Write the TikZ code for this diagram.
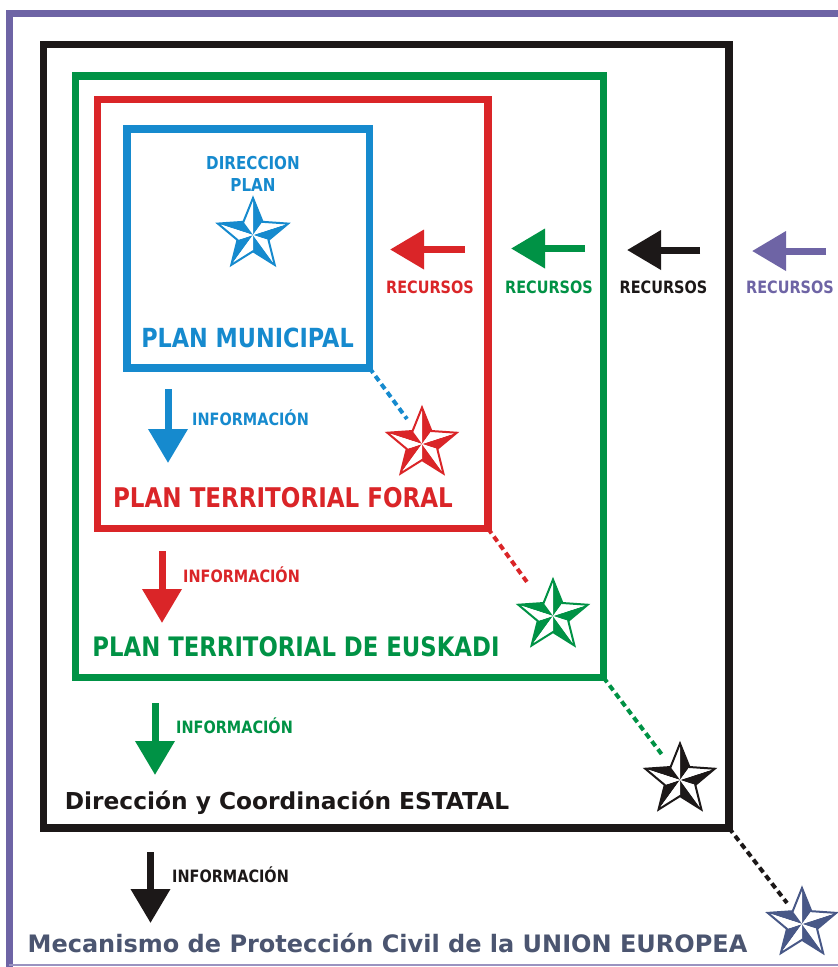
\documentclass[tikz,border=0pt]{standalone}
\usepackage{fontspec}
\setmainfont{DejaVu Sans}
\newfontfamily\capsf[FakeStretch=0.85]{DejaVu Sans}
\usetikzlibrary{arrows.meta}
\definecolor{cblue}{RGB}{22,138,206}
\definecolor{cred}{RGB}{218,37,40}
\definecolor{cgreen}{RGB}{0,146,69}
\definecolor{cblack}{RGB}{28,24,24}
\definecolor{cpurple}{RGB}{110,100,165}
\definecolor{cnavy}{RGB}{72,88,135}
\definecolor{cslate}{RGB}{75,85,112}
\tikzset{
  boxline/.style={line width=7.5pt, line join=miter},
  conn/.style={line width=4pt, dash pattern=on 6pt off 4pt},
  bigarrow/.style={line width=7pt, -{Triangle[length=34pt,width=38pt]}},
  capt/.style={inner sep=0pt, anchor=base, font=\capsf\bfseries\fontsize{#1}{#1}\selectfont},
  lowt/.style={inner sep=0pt, anchor=base, font=\bfseries\fontsize{#1}{#1}\selectfont},
}
\newcommand\nautstar[3]{%
  \begin{scope}[shift={(#1)}]
    \foreach \k in {0,...,4}{
      \pgfmathsetmacro\aa{270+72*\k}
      \fill[#3] (0,0) -- (\aa:#2) -- (\aa+36:0.44*#2) -- cycle;
      \fill[white] (0,0) -- (\aa:#2) -- (\aa-36:0.44*#2) -- cycle;
    }
    \draw[#3, line width=2pt, line join=miter]
      (270:#2) -- (306:0.44*#2) -- (342:#2) -- (18:0.44*#2) -- (54:#2)
      -- (90:0.44*#2) -- (126:#2) -- (162:0.44*#2) -- (198:#2)
      -- (234:0.44*#2) -- cycle;
  \end{scope}}
\begin{document}
\begin{tikzpicture}[x=1pt,y=-1pt]
\useasboundingbox (0,0) rectangle (838,967);
\fill[white] (0,0) rectangle (838,967);
% outer purple frame
\draw[cpurple, line width=7pt] (838,13.5) -- (9,13.5) -- (9,967);
\draw[cpurple!70, line width=1.5pt] (9,965) -- (838,965);

% corner coordinates
\coordinate (kTL) at (43.5,44.5);  \coordinate (kBR) at (729,828);
\coordinate (gTL) at (75.5,76);    \coordinate (gBR) at (603.5,677.5);
\coordinate (rTL) at (97.5,99.5);  \coordinate (rBR) at (488,528.5);
\coordinate (bTL) at (127,129);    \coordinate (bBR) at (369.5,368);

% boxes
\draw[boxline, cblack] (kTL) rectangle (kBR);
\draw[boxline, cgreen] (gTL) rectangle (gBR);
\draw[boxline, cred]   (rTL) rectangle (rBR);
\draw[boxline, cblue]  (bTL) rectangle (bBR);

% stars
\coordinate (sBlue)  at (253,235);
\coordinate (sRed)   at (422,444);
\coordinate (sGreen) at (553,616);
\coordinate (sBlack) at (680,780);
\coordinate (sEU)    at (802,924);
\nautstar{sBlue}{37}{cblue}
\nautstar{sRed}{36.5}{cred}
\nautstar{sGreen}{36.5}{cgreen}
\nautstar{sBlack}{36.5}{cblack}
\nautstar{sEU}{36}{cnavy}

% dashed connectors
\coordinate (eBlue)  at (407,419);
\coordinate (eRed)   at (527,582);
\coordinate (eGreen) at (663,756);
\coordinate (eBlack) at (787,903);
\draw[conn, cblue]  (bBR) -- (eBlue);
\draw[conn, cred]   (rBR) -- (eRed);
\draw[conn, cgreen] (gBR) -- (eGreen);
\draw[conn, cblack] (kBR) -- (eBlack);

% texts in blue box
\node[capt=17.8, text=cblue] (dir1) at (253,169) {DIRECCION};
\node[capt=17.8, text=cblue] (dir2) at (253,191) {PLAN};
\node[capt=26.3, text=cblue] (pmun) at (247.5,347.5) {PLAN MUNICIPAL};

% recursos arrows
\coordinate (rA1) at (465,249.5); \coordinate (rA2) at (390,249.5);
\coordinate (gA1) at (585,248.5); \coordinate (gA2) at (511,248.5);
\coordinate (kA1) at (700,250);   \coordinate (kA2) at (627,250);
\coordinate (pA1) at (826,251);   \coordinate (pA2) at (752,251);
\draw[bigarrow, cred]    (rA1) -- (rA2);
\draw[bigarrow, cgreen]  (gA1) -- (gA2);
\draw[bigarrow, cblack]  (kA1) -- (kA2);
\draw[bigarrow, cpurple] (pA1) -- (pA2);
\node[capt=17, text=cred]    (rRec) at (430,293.5) {RECURSOS};
\node[capt=17, text=cgreen]  (gRec) at (549,293.5) {RECURSOS};
\node[capt=17, text=cblack]  (kRec) at (663.5,293.5) {RECURSOS};
\node[capt=17, text=cpurple] (pRec) at (790,293.5) {RECURSOS};

% informacion arrows
\coordinate (bI1) at (168,389); \coordinate (bI2) at (168,463);
\coordinate (rI1) at (162,551); \coordinate (rI2) at (162,623);
\coordinate (gI1) at (155,703); \coordinate (gI2) at (155,775);
\coordinate (kI1) at (150.5,852); \coordinate (kI2) at (150.5,923);
\draw[bigarrow, cblue]  (bI1) -- (bI2);
\draw[bigarrow, cred]   (rI1) -- (rI2);
\draw[bigarrow, cgreen] (gI1) -- (gI2);
\draw[bigarrow, cblack] (kI1) -- (kI2);
\node[capt=17, text=cblue,  anchor=base west] (bInf) at (192,425.5) {INFORMACIÓN};
\node[capt=17, text=cred,   anchor=base west] (rInf) at (183,582) {INFORMACIÓN};
\node[capt=17, text=cgreen, anchor=base west] (gInf) at (176,733) {INFORMACIÓN};
\node[capt=17, text=cblack, anchor=base west] (kInf) at (172,882) {INFORMACIÓN};

% plan titles
\node[capt=27.1, text=cred]   (pfor) at (283,507) {PLAN TERRITORIAL FORAL};
\node[capt=26.8, text=cgreen] (peus) at (296,656) {PLAN TERRITORIAL DE EUSKADI};
\node[lowt=23.3, text=cblack] (pest) at (287,809) {Dirección y Coordinación ESTATAL};
\node[lowt=24, text=cslate] (peu) at (387.5,952) {Mecanismo de Protección Civil de la UNION EUROPEA};
\end{tikzpicture}
\end{document}
